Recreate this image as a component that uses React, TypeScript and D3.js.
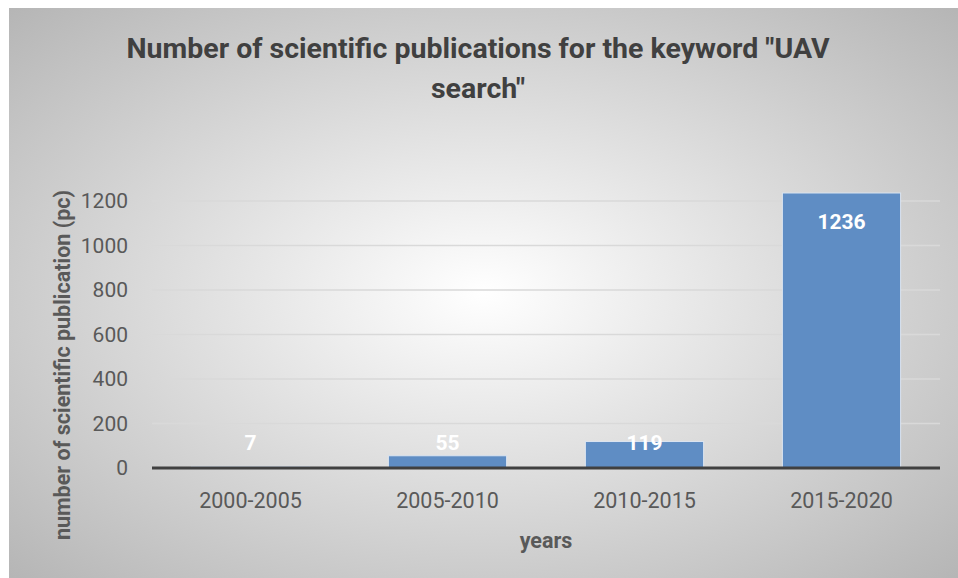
import React from "react";
import * as d3 from "d3";

const categories = ["2000-2005", "2005-2010", "2010-2015", "2015-2020"];
const values = [7, 55, 119, 1236];
const yTicks = [0, 200, 400, 600, 800, 1000, 1200];
const titleLines = ['Number of scientific publications for the keyword "UAV', 'search"'];
const xTitle = "years";
const yTitle = "number of scientific publication (pc)";

const W = 958;
const H = 578;
const FONT = "Roboto, 'Open Sans', sans-serif";

export default function App() {
  const left = 152;
  const right = 940;
  const y0 = 468;
  const yTop = 201;
  const x = d3.scaleBand<string>().domain(categories).range([left, right]).paddingInner(0.4).paddingOuter(0.2);
  const y = d3.scaleLinear().domain([0, 1200]).range([y0, yTop]);

  return (
    <svg width={W} height={H} style={{ position: "absolute", left: 0, top: 0 }} fontFamily={FONT}>
      <defs>
        <radialGradient id="bg" cx="50%" cy="50%" r="72%">
          <stop offset="0%" stopColor="#ffffff" />
          <stop offset="100%" stopColor="#b4b4b4" />
        </radialGradient>
      </defs>
      <rect x={0} y={0} width={W} height={H} fill="#ffffff" />
      <rect x={9} y={8} width={W - 9} height={H - 8} fill="url(#bg)" />
      {titleLines.map((t, i) => (
        <text key={i} x={478} y={58 + i * 40} textAnchor="middle" fontSize={28.5} fontWeight="bold" fill="#404040">
          {t}
        </text>
      ))}
      {yTicks.filter((t) => t > 0).map((t) => (
        <line key={t} x1={left} x2={right} y1={y(t)} y2={y(t)} stroke="#d9d9d9" strokeWidth={1.5} />
      ))}
      {yTicks.map((t) => (
        <text key={"l" + t} x={128} y={y(t)} dy="0.35em" textAnchor="end" fontSize={21} fill="#595959">
          {t}
        </text>
      ))}
      {categories.map((c, i) => (
        <rect
          key={c}
          x={x(c)}
          y={y(values[i])}
          width={x.bandwidth()}
          height={y0 - y(values[i])}
          fill="#5f8dc4"
          stroke="#dbe4f0"
          strokeWidth={1}
        />
      ))}
      <line x1={left} x2={right} y1={y0} y2={y0} stroke="#404040" strokeWidth={3} />
      {categories.map((c, i) => (
        <text
          key={"v" + c}
          x={(x(c) as number) + x.bandwidth() / 2}
          y={Math.min(y(values[i]) + 29, 443)}
          dy="0.35em"
          textAnchor="middle"
          fontSize={21}
          fontWeight="bold"
          fill="#ffffff"
        >
          {values[i]}
        </text>
      ))}
      {categories.map((c) => (
        <text
          key={"c" + c}
          x={(x(c) as number) + x.bandwidth() / 2}
          y={500}
          dy="0.35em"
          textAnchor="middle"
          fontSize={21.5}
          fill="#595959"
        >
          {c}
        </text>
      ))}
      <text x={546} y={540} dy="0.35em" textAnchor="middle" fontSize={21.5} fontWeight="bold" fill="#595959">
        {xTitle}
      </text>
      <text
        transform={`translate(62,365) rotate(-90)`}
        dy="0.35em"
        textAnchor="middle"
        fontSize={21.5}
        fontWeight="bold"
        fill="#595959"
      >
        {yTitle}
      </text>
    </svg>
  );
}
